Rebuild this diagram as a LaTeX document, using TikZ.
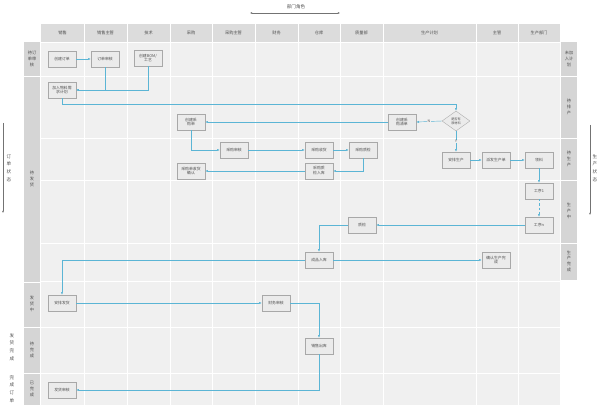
\documentclass[tikz,border=0pt]{standalone}
\usepackage{fontspec}
\setmainfont{Noto Sans CJK SC}
\usepackage{xcolor}
\definecolor{lanebg}{HTML}{F0F0F0}
\definecolor{headbg}{HTML}{DCDCDC}
\definecolor{sidebg}{HTML}{D5D5D5}
\definecolor{flowblue}{HTML}{5BB5D5}
\definecolor{boxfill}{HTML}{EBEBEB}
\definecolor{boxline}{HTML}{A8A8A8}
\definecolor{inktext}{HTML}{505050}
\usepackage{tikz}
\usetikzlibrary{shapes.geometric, arrows.meta, shadows, calc}

\begin{document}
\begin{tikzpicture}[
  x=0.05cm, y=-0.05cm,
  every node/.style={text=inktext},
  headtext/.style={font=\fontsize{6}{7}\selectfont},
  sidetext/.style={align=center, inner sep=0pt, font=\fontsize{6}{8}\selectfont},
  outertext/.style={align=center, inner sep=0pt, font=\fontsize{6.5}{11}\selectfont},
  box/.style={draw=boxline, fill=boxfill, line width=0.5pt, align=center,
              minimum width=1.4cm, minimum height=0.8cm, inner sep=1pt,
              font=\fontsize{5.5}{7}\selectfont,
              drop shadow={opacity=0.18, shadow xshift=0.6pt, shadow yshift=-0.6pt}},
  check/.style={diamond, draw=boxline, fill=boxfill, line width=0.5pt, align=center,
                minimum width=1.4cm, minimum height=1.0cm, inner sep=0.5pt,
                font=\fontsize{4.5}{5.5}\selectfont},
  lbl/.style={fill=lanebg, inner sep=1pt, font=\fontsize{5}{5}\selectfont},
  flow/.style={draw=flowblue, line width=0.6pt, -{Latex[length=4pt,width=3pt]}},
  state/.style={draw=inktext!80, line width=0.4pt},
  gridline/.style={white, line width=1pt}
]
  \fill[white] (0,0) rectangle (600,410);
  \useasboundingbox (0,0) rectangle (600,410);

  % lanes
  \fill[lanebg] (41,42) rectangle (560,405);
  \fill[headbg] (41,24) rectangle (560,42);
  \fill[sidebg] (24,42) rectangle (40,405);
  \fill[sidebg] (561,42) rectangle (577,280);

  \newcommand{\lanehead}[4]{%
    \node[headtext] (#1) at ({(#2+#3)/2},33) {#4};
    \draw[gridline] (#3,24) -- (#3,405);
  }
  \newcommand{\rowline}[3]{\draw[gridline] (#1,#3) -- (#2,#3);}

  \lanehead{hsale}{41}{84}{销售}
  \lanehead{hsalelead}{84}{127}{销售主管}
  \lanehead{htech}{127}{170}{技术}
  \lanehead{hbuy}{170}{212}{采购}
  \lanehead{hbuylead}{212}{255}{采购主管}
  \lanehead{hfin}{255}{298}{财务}
  \lanehead{hstore}{298}{340}{仓库}
  \lanehead{hqc}{340}{383}{质量部}
  \lanehead{hplan}{383}{476}{生产计划}
  \lanehead{hlead}{476}{518}{主管}
  \lanehead{hprod}{518}{560}{生产部门}

  \rowline{41}{560}{42}
  \rowline{41}{560}{76}
  \rowline{41}{560}{138}
  \rowline{41}{560}{180}
  \rowline{41}{560}{243}
  \rowline{41}{560}{281}
  \rowline{41}{560}{327}
  \rowline{41}{560}{373}
  \rowline{24}{40.5}{76}
  \rowline{24}{40.5}{282}
  \rowline{24}{40.5}{327}
  \rowline{24}{40.5}{373}
  \rowline{560.5}{577}{76}
  \rowline{560.5}{577}{138}
  \rowline{560.5}{577}{180}
  \rowline{560.5}{577}{243}

  % row states
  \node[sidetext] (s1) at (32,59) {待订\\单审\\核};
  \node[sidetext] (s2) at (32,179) {待\\发\\货};
  \node[sidetext] (s3) at (32,304) {发\\货\\中};
  \node[sidetext] (s4) at (32,350) {待\\完\\成};
  \node[sidetext] (s5) at (32,389) {已\\完\\成};
  \node[sidetext] (p1) at (569,59) {未加\\入计\\划};
  \node[sidetext] (p2) at (569,107) {待\\排\\产};
  \node[sidetext] (p3) at (569,159) {待\\生\\产};
  \node[sidetext] (p4) at (569,211) {生\\产\\中};
  \node[sidetext] (p5) at (569,261) {生\\产\\完\\成};

  % outer captions
  \node[outertext] (roles) at (296,7) {部门角色};
  \coordinate (rolesL) at (250,13);
  \coordinate (rolesR) at (340,13);
  \draw[state, {Latex[length=3pt,width=2.4pt]}-{Latex[length=3pt,width=2.4pt]}] (rolesL) -- (rolesR);
  \node[outertext] (ostate) at (9,168) {订\\单\\状\\态};
  \coordinate (ostateT) at (3,123);
  \coordinate (ostateB) at (3,213);
  \draw[state, -{Latex[length=3pt,width=2.4pt]}] (ostateT) -- (ostateB);
  \node[outertext] (pstate) at (595,168) {生\\产\\状\\态};
  \coordinate (pstateT) at (590,125);
  \coordinate (pstateB) at (590,215);
  \draw[state, -{Latex[length=3pt,width=2.4pt]}] (pstateT) -- (pstateB);
  \node[outertext] (shipped) at (12,347) {发\\货\\完\\成};
  \node[outertext] (closed) at (12,389) {完\\成\\订\\单};

  % steps
  \node[box] (neworder) at (62,59) {创建订单};
  \node[box] (orderchk) at (105,59) {订单审核};
  \node[box] (bom) at (148,58) {创建BOM/\\工艺};
  \node[box] (mrp) at (62,90) {加入物料需\\求计划};
  \node[check] (stockq) at (456,121) {是否有\\原材料};
  \node[box] (plist) at (402,122) {创建采\\购清单};
  \node[box] (porder) at (191,122) {创建采\\购单};
  \node[box] (paudit) at (234,150) {采购审核};
  \node[box] (precv) at (319,150) {采购收货};
  \node[box] (pqc) at (363,150) {采购质检};
  \node[box] (pin) at (319,171) {采购质\\检入库};
  \node[box] (pconfirm) at (191,171) {采购单收货\\确认};
  \node[box] (plan) at (456,160) {安排生产};
  \node[box] (dispatch) at (496,160) {派发生产单};
  \node[box] (pick) at (539,160) {领料};
  \node[box] (step1) at (539,191) {工序1};
  \node[box] (stepn) at (539,225) {工序n};
  \node[box] (qc) at (362,225) {质检};
  \node[box] (store) at (319,260) {成品入库};
  \node[box] (done) at (496,260) {确认生产完\\成};
  \node[box] (ship) at (62,303) {安排发货};
  \node[box] (finchk) at (276,303) {财务审核};
  \node[box] (out) at (319,346) {销售出库};
  \node[box] (sign) at (62,390) {发货审核};

  % flows
  \draw[flow] (neworder) -- (orderchk);
  \draw[flow] (orderchk.south) |- (mrp.east);
  \draw[flow] (bom.south) |- (mrp.east);
  \draw[flow] (mrp.south) -- ++(0,6) -| (stockq.north);
  \draw[flow] (stockq.west) -- node[lbl] (nolbl) {N} (plist.east);
  \draw[flow] (plist) -- (porder);
  \draw[flow] (porder.south) |- (paudit.west);
  \draw[flow] (paudit) -- (precv);
  \draw[flow] (precv) -- (pqc);
  \draw[flow] (pqc.south) |- (pin.east);
  \draw[flow] (pin) -- (pconfirm);
  \draw[flow] (stockq.south) -- node[lbl] (yeslbl) {Y} (plan.north);
  \draw[flow] (plan) -- (dispatch);
  \draw[flow] (dispatch) -- (pick);
  \draw[flow] (pick) -- (step1);
  \draw[flow, dashed] (step1) -- (stepn);
  \draw[flow] (stepn) -- (qc);
  \draw[flow] (qc.west) -| (store.north);
  \draw[flow] (store) -- (done);
  \draw[flow] (store.west) -| (ship.north);
  \draw[flow] (ship) -- (finchk);
  \draw[flow] (finchk.east) -| (out.north);
  \draw[flow] (out.south) |- (sign.east);
\end{tikzpicture}
\end{document}
